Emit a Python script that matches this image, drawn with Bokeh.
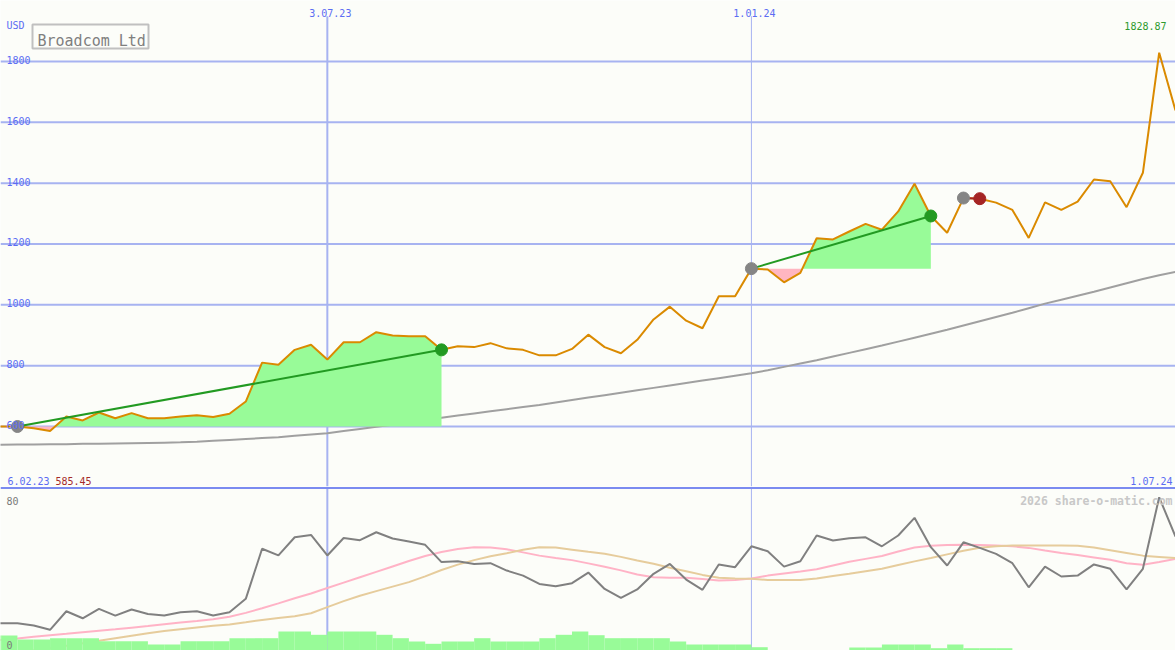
import numpy as np
import pandas as pd
from bokeh.plotting import figure
from bokeh.models import Range1d, Span, Label, BoxAnnotation
from bokeh.layouts import column
from bokeh.embed import file_html
from bokeh.resources import INLINE

# ---------------- data ----------------
dates = pd.date_range("2023-02-06", periods=74, freq="7D")

price = [598, 600, 600, 594, 585.45, 633, 620, 646, 627, 644,
         627, 627, 633, 637, 631, 642, 682, 810, 803, 852,
         869, 820, 877, 877, 910, 899, 897, 897, 852, 864,
         861, 874, 857, 852, 834, 834, 855, 902, 861, 841,
         885, 952, 994, 948, 923, 1028, 1028, 1119, 1116, 1074,
         1105, 1219, 1215, 1241, 1266, 1247, 1307, 1398, 1292, 1237,
         1351, 1349, 1336, 1312, 1220, 1337, 1312, 1339, 1412, 1406,
         1321, 1434, 1828.87, 1639]

ma_long = [539, 540, 541, 541, 542, 542, 543, 543, 544, 545,
           546, 547, 548, 550, 553, 556, 559, 562, 565, 570,
           574, 578, 585, 592, 599, 606, 613, 621, 629, 636,
           643, 650, 657, 664, 671, 679, 687, 695, 703, 711,
           719, 727, 735, 743, 751, 759, 767, 775, 785, 796,
           807, 818, 830, 842, 854, 866, 879, 892, 905, 918,
           932, 946, 960, 974, 989, 1004, 1017, 1030, 1043, 1057,
           1071, 1085, 1097, 1108]

osc = [13, 12.9, 12.9, 11.7, 9.3, 19.6, 15.7, 20.9, 17.2, 20.6,
       18.1, 17.2, 19.1, 19.6, 17.2, 19.1, 26.5, 54.3, 50.6, 60.7,
       62, 50.6, 60.3, 59.1, 63.5, 60, 58.3, 56.5, 46.9, 47.4,
       45.9, 46.3, 42.2, 39.4, 34.8, 33.5, 35.2, 41.1, 32, 27,
       31.7, 40.4, 45.9, 37.2, 31.5, 45.6, 44.1, 55.7, 52.9, 44.4,
       47.4, 61.7, 58.9, 60.2, 60.7, 55.7, 61.7, 71.5, 55.2, 45,
       57.9, 54.8, 51.5, 46.3, 32.9, 44.4, 38.9, 39.4, 45.6, 43.2,
       31.7, 43.2, 82.9, 61.1]

osc_fast = [3, 3.7, 4.5, 5.4, 6.3, 7.1, 8.0, 8.8, 9.6, 10.5,
            11.4, 12.4, 13.3, 14.2, 15.2, 16.5, 18.7, 21.3, 24.0, 26.8,
            29.5, 32.5, 35.5, 38.5, 41.5, 44.5, 47.5, 50.3, 52.5, 54.2,
            55.2, 55.0, 54.0, 52.3, 50.5, 49.2, 48.0, 46.2, 44.3, 42.3,
            40.0, 38.5, 38.2, 38.2, 37.5, 36.7, 37.0, 37.8, 39.4, 40.6,
            41.7, 42.9, 45.0, 47.1, 48.7, 50.3, 52.8, 55.0, 56.0, 56.4,
            56.5, 56.4, 56.1, 55.7, 54.8, 53.3, 52.0, 50.8, 49.5, 48.2,
            46.3, 45.4, 47.0, 48.7]

osc_slow = [-6, -5, -3.5, -2.2, -0.9, 0.4, 1.8, 3.2, 4.6, 6.0,
            7.4, 8.6, 9.6, 10.6, 11.5, 12.3, 13.5, 14.8, 15.8, 16.8,
            18.5, 21.9, 25.2, 28.2, 30.8, 33.3, 35.8, 39.0, 42.5, 45.5,
            48.0, 50.2, 51.8, 53.8, 55.2, 55.0, 53.8, 52.6, 51.5, 49.8,
            47.8, 46.0, 43.8, 41.8, 39.8, 38.2, 37.8, 37.6, 37.0, 37.0,
            37.0, 37.8, 39.2, 40.4, 41.8, 43.2, 45.3, 47.3, 49.2, 51.2,
            53.2, 54.9, 55.7, 56.1, 56.1, 56.1, 56.1, 56.0, 55.0, 53.5,
            52.0, 50.5, 49.8, 49.1]

volume_rel = [15, 15, 11, 11, 12.3, 12.3, 12.3, 9.3, 9.3, 9.3,
              6, 6, 9.3, 9.3, 9.3, 12.3, 12.3, 12.3, 19, 19,
              15.7, 19, 19, 19, 15.7, 12.3, 9, 6.7, 9, 9,
              12.3, 9, 9, 9, 12.3, 15.7, 19, 15.3, 12.3, 12.3,
              12.3, 12.3, 9, 6, 6, 6, 6, 3.3, 0, 0,
              0, 0, 0, 3, 3, 6, 6, 6, 2.3, 6,
              2.3, 2.3, 2.3, 0, 0, 0, 0, 0, 0, 0,
              0, 0, 0, 0]

trade_entry = [2, 47, 60]
trade_exit = [28, 58, 61]

price_levels = [600, 800, 1000, 1200, 1400, 1600, 1800]
osc_levels = [0, 80]
marked_dates = ["2023-07-03", "2024-01-01"]
marked_widths = [2, 1]

# ---------------- style ----------------
W, H1, H2 = 1175, 486, 164
BG = "#FCFDF9"
GRID = "#A7B3F1"
BLUE = "#5B6CF3"
FONT = "DejaVu Sans Mono"
ORANGE = "#DA8A00"
GREEN_FILL = "#98FB98"
PINK_FILL = "#FFB6C1"
WEEK = 7 * 24 * 3600 * 1000

xs = (dates.asi8 // 10**6).astype(float)
x_start = xs[0] + 0.962 * WEEK
x_end = xs[-1]
mark_x = [pd.Timestamp(d).value // 10**6 for d in marked_dates]


def fmt_date(ms):
    d = pd.Timestamp(ms, unit="ms")
    return f"{d.day}.{d:%m.%y}"


def lab(fig, text, x, y, xu="screen", yu="screen", align="left", color=BLUE,
        size=10, bold=False, x_offset=0, y_offset=0):
    fig.add_layout(Label(x=x, y=y, x_units=xu, y_units=yu, text=text,
                         text_align=align, text_baseline="alphabetic",
                         text_color=color, text_font=FONT,
                         text_font_size=f"{size}px",
                         text_font_style="bold" if bold else "normal",
                         x_offset=x_offset, y_offset=y_offset))


# ---------------- upper panel ----------------
p = figure(width=W, height=H1, x_range=Range1d(x_start, x_end),
           y_range=Range1d(402.8, 2000.4), x_axis_type=None, y_axis_type=None,
           output_backend="svg", toolbar_location=None, min_border=0,
           background_fill_color=BG, border_fill_color=BG, outline_line_color=None)

for lv in price_levels:
    p.add_layout(Span(location=lv, dimension="width", line_color=GRID,
                      line_width=2, level="underlay"))
top_v = 600 + (426 - 15.7) / 0.3042
p.segment(x0=mark_x, y0=[p.y_range.start] * 2, x1=mark_x, y1=[top_v] * 2,
          line_color=GRID, line_width=marked_widths)

p.line(xs, ma_long, line_color="#A0A0A0", line_width=2)

# trade fills
for a, b in zip(trade_entry, trade_exit):
    base = price[a]
    tx, ty = [xs[a]], [price[a]]
    for k in range(a + 1, b + 1):
        y0, y1 = price[k - 1], price[k]
        if (y0 - base) * (y1 - base) < 0:
            t = (base - y0) / (y1 - y0)
            tx.append(xs[k - 1] + t * (xs[k] - xs[k - 1]))
            ty.append(base)
        tx.append(xs[k])
        ty.append(y1)
    tx = np.array(tx)
    ty = np.array(ty)
    p.varea(x=tx, y1=np.full(len(tx), base), y2=np.maximum(ty, base),
            fill_color=GREEN_FILL)
    p.varea(x=tx, y1=np.minimum(ty, base), y2=np.full(len(tx), base),
            fill_color=PINK_FILL)

p.line(xs, price, line_color=ORANGE, line_width=2)

exit_colors = []
for a, b in zip(trade_entry, trade_exit):
    col = "#229A22" if price[b] >= price[a] else "#A52424"
    exit_colors.append(col)
    p.line([xs[a], xs[b]], [price[a], price[b]], line_color=col, line_width=2)

p.scatter([xs[a] for a in trade_entry], [price[a] for a in trade_entry],
          size=12, color="#858585")
p.scatter([xs[b] for b in trade_exit], [price[b] for b in trade_exit],
          size=12, color=exit_colors)

# texts
for lv in price_levels:
    lab(p, str(lv), 6, lv, yu="data", y_offset=1.5)
lab(p, "USD", 6, H1 - 25)
for mx in mark_x:
    lab(p, fmt_date(mx), mx, H1 - 12.5, xu="data", align="center", x_offset=3)
lab(p, f"{max(price):.2f}", 1166, H1 - 25, align="right", color="#2E9A2E")
lab(p, fmt_date(xs[0]), 7, H1 - 480.5)
lab(p, f"{min(price):.2f}", 55, H1 - 480.5, color="#A52A2A")
lab(p, fmt_date(xs[-1]), 1172, H1 - 480.5, align="right")

p.add_layout(BoxAnnotation(left=32, right=148, top=H1 - 24, bottom=H1 - 48,
                           left_units="screen", right_units="screen",
                           top_units="screen", bottom_units="screen",
                           fill_color=BG, fill_alpha=1, line_color="#C0C0C0",
                           line_width=2, line_alpha=1))
lab(p, "Broadcom Ltd", 37, H1 - 40.7, color="#7F7F7F", size=15)

# ---------------- lower panel ----------------
q = figure(width=W, height=H2, x_range=p.x_range, y_range=Range1d(-2.2, 88.9),
           x_axis_type=None, y_axis_type=None, output_backend="svg",
           toolbar_location=None, min_border=0, background_fill_color=BG,
           border_fill_color=BG, outline_line_color=None)
q.extra_y_ranges = {"vol": Range1d(0, 164)}

for mx, w in zip(mark_x, marked_widths):
    q.add_layout(Span(location=mx, dimension="height", line_color=GRID,
                      line_width=w, level="underlay"))
q.add_layout(Span(location=(646 - 487.5) / 1.8, dimension="width",
                  line_color="#7B8BF0", line_width=2))

q.line(xs, osc_fast, line_color="#FFB3C6", line_width=2)
q.line(xs, osc_slow, line_color="#E6CC9C", line_width=2)
q.line(xs, osc, line_color="#808080", line_width=2)
q.quad(left=xs, right=xs + WEEK, bottom=0, top=volume_rel, y_range_name="vol",
       fill_color=GREEN_FILL, line_color=None)

for lv in osc_levels:
    lab(q, str(lv), 6, lv, yu="data", color="#7A7A7A", y_offset=1.5)
lab(q, "2026 share-o-matic.com", 1172, H2 - (500.5 - 486),
    align="right", color="#C8C8C8", size=11.5, bold=True)

layout = column(p, q, spacing=0)
open("out.html", "w").write(file_html(layout, INLINE))
